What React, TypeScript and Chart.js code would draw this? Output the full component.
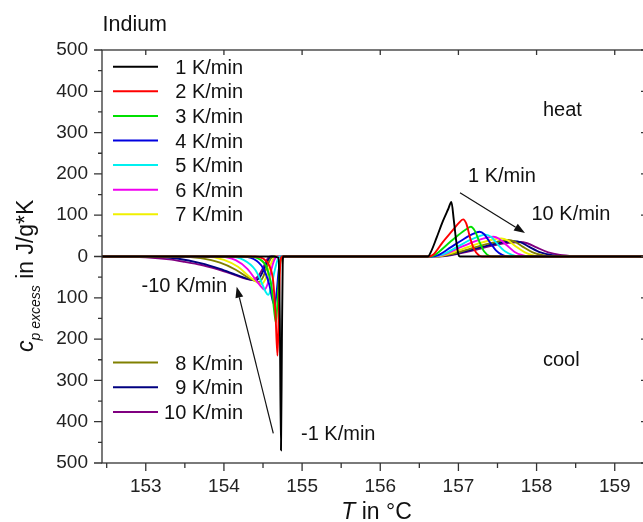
import React, { useEffect, useRef } from "react";
import { Chart, registerables } from "chart.js";
Chart.register(...registerables);

const FONT = "'Liberation Sans', Arial, Helvetica, sans-serif";

const X_MIN = 152.44;
const X_MAX = 159.4;
const Y_MIN = -500;
const Y_MAX = 500;
const X_TICKS = [153, 154, 155, 156, 157, 158, 159];
const X_MINOR = [152.5, 153.5, 154.5, 155.5, 156.5, 157.5, 158.5];
const Y_TICKS = [-500, -400, -300, -200, -100, 0, 100, 200, 300, 400, 500];
const Y_MINOR = [-450, -350, -250, -150, -50, 50, 150, 250, 350, 450];

const RATE_LABELS = ["1 K/min", "2 K/min", "3 K/min", "4 K/min", "5 K/min", "6 K/min", "7 K/min", "8 K/min", "9 K/min", "10 K/min"];
const RATE_COLORS = ["#000000", "#ff0000", "#00e000", "#0000e0", "#00f0f0", "#f000f0", "#f0f000", "#808000", "#000080", "#800080"];

// cooling runs: [T in °C, cp excess]
const cool1 = [[154.6, 0], [154.7, -3], [154.715, -150], [154.73, -469], [154.742, -200], [154.752, -20], [154.76, 0]];
const cool2 = [[154.4, 0], [154.5, -5], [154.58, -22], [154.63, -60], [154.66, -140], [154.685, -240], [154.7, -150], [154.715, -40], [154.73, -5], [154.75, 0]];
const cool3 = [[154.3, 0], [154.45, -6], [154.55, -28], [154.61, -75], [154.645, -135], [154.665, -160], [154.685, -110], [154.71, -35], [154.73, -5], [154.75, 0]];
const cool4 = [[154.2, 0], [154.38, -6], [154.5, -28], [154.58, -68], [154.625, -108], [154.65, -118], [154.675, -85], [154.7, -35], [154.725, -6], [154.745, 0]];
const cool5 = [[154.05, 0], [154.25, -8], [154.4, -32], [154.48, -62], [154.535, -86], [154.565, -93], [154.6, -78], [154.64, -42], [154.68, -12], [154.71, 0]];
const cool6 = [[153.95, 0], [154.15, -9], [154.3, -30], [154.42, -60], [154.49, -76], [154.52, -80], [154.56, -66], [154.6, -36], [154.645, -8], [154.68, 0]];
const cool7 = [[153.75, 0], [154.0, -8], [154.18, -25], [154.32, -48], [154.42, -62], [154.48, -67], [154.53, -55], [154.58, -28], [154.63, -6], [154.66, 0]];
const cool8 = [[153.45, 0], [153.7, -4], [153.95, -15], [154.15, -32], [154.3, -50], [154.4, -59], [154.45, -62], [154.5, -50], [154.55, -25], [154.6, -5], [154.63, 0]];
const cool9 = [[153.1, 0], [153.4, -5], [153.7, -16], [153.95, -30], [154.15, -44], [154.3, -54], [154.4, -58], [154.46, -50], [154.52, -28], [154.57, -7], [154.61, 0]];
const cool10 = [[152.7, 0], [153.0, -2], [153.3, -7], [153.5, -13], [153.7, -20], [153.9, -30], [154.1, -42], [154.25, -52], [154.36, -57], [154.44, -47], [154.5, -28], [154.55, -8], [154.59, 0]];

// heating runs: [T in °C, cp excess]
const heat1 = [[156.55, 0], [156.61, 0], [156.65, 12], [156.72, 45], [156.8, 85], [156.87, 115], [156.91, 132], [156.94, 90], [156.97, 40], [157.0, 5], [157.02, 0]];
const heat2 = [[156.62, 0], [156.68, 5], [156.8, 35], [156.92, 62], [157.0, 80], [157.06, 90], [157.1, 80], [157.15, 45], [157.2, 18], [157.26, 3], [157.3, 0]];
const heat3 = [[156.64, 0], [156.7, 4], [156.85, 28], [157.0, 52], [157.1, 66], [157.16, 72], [157.21, 62], [157.27, 35], [157.33, 12], [157.4, 1], [157.44, 0]];
const heat4 = [[156.66, 0], [156.75, 4], [156.9, 22], [157.05, 40], [157.18, 54], [157.27, 60], [157.33, 54], [157.4, 35], [157.48, 15], [157.56, 4], [157.64, 0]];
const heat5 = [[156.67, 0], [156.8, 5], [157.0, 25], [157.15, 40], [157.28, 50], [157.35, 53], [157.42, 47], [157.5, 30], [157.6, 12], [157.7, 3], [157.76, 0]];
const heat6 = [[156.68, 0], [156.8, 4], [157.0, 20], [157.2, 36], [157.35, 45], [157.45, 48], [157.52, 43], [157.62, 27], [157.72, 11], [157.82, 3], [157.9, 0]];
const heat7 = [[156.7, 0], [156.85, 5], [157.05, 18], [157.25, 31], [157.42, 40], [157.55, 44], [157.63, 39], [157.73, 25], [157.85, 10], [157.95, 3], [158.05, 0]];
const heat8 = [[156.7, 0], [156.9, 5], [157.1, 16], [157.3, 27], [157.5, 36], [157.64, 40], [157.72, 36], [157.82, 24], [157.95, 10], [158.08, 3], [158.2, 0]];
const heat9 = [[156.72, 0], [156.9, 4], [157.1, 13], [157.3, 23], [157.5, 32], [157.71, 37], [157.8, 34], [157.9, 24], [158.05, 10], [158.2, 3], [158.35, 0]];
const heat10 = [[156.72, 0], [156.9, 3], [157.1, 11], [157.3, 20], [157.5, 29], [157.65, 33], [157.78, 35], [157.88, 32], [158.0, 22], [158.15, 10], [158.3, 4], [158.5, 1], [158.7, 0]];

const COOL = [cool1, cool2, cool3, cool4, cool5, cool6, cool7, cool8, cool9, cool10];
const HEAT = [heat1, heat2, heat3, heat4, heat5, heat6, heat7, heat8, heat9, heat10];

function arrow(ctx: CanvasRenderingContext2D, x1: number, y1: number, x2: number, y2: number) {
  const ang = Math.atan2(y2 - y1, x2 - x1);
  const len = 11, w = 4;
  const bx = x2 - len * Math.cos(ang), by = y2 - len * Math.sin(ang);
  ctx.beginPath();
  ctx.moveTo(x1, y1);
  ctx.lineTo(bx, by);
  ctx.stroke();
  ctx.beginPath();
  ctx.moveTo(x2, y2);
  ctx.lineTo(bx + w * Math.sin(ang), by - w * Math.cos(ang));
  ctx.lineTo(bx - w * Math.sin(ang), by + w * Math.cos(ang));
  ctx.closePath();
  ctx.fill();
}

const decor = {
  id: "decor",
  afterDraw(chart: any) {
    const ctx: CanvasRenderingContext2D = chart.ctx;
    const { left, right, top, bottom } = chart.chartArea;
    const xs = chart.scales.x, ys = chart.scales.y;
    ctx.save();
    ctx.strokeStyle = "#333";
    ctx.lineWidth = 1.3;
    ctx.strokeRect(left, top, right - left, bottom - top);
    ctx.beginPath();
    X_TICKS.forEach((v) => { const p = xs.getPixelForValue(v); ctx.moveTo(p, bottom); ctx.lineTo(p, bottom + 8); ctx.moveTo(p, top); ctx.lineTo(p, top + 5); });
    X_MINOR.forEach((v) => { const p = xs.getPixelForValue(v); ctx.moveTo(p, bottom); ctx.lineTo(p, bottom + 5); });
    Y_TICKS.forEach((v) => { const p = ys.getPixelForValue(v); ctx.moveTo(left, p); ctx.lineTo(left - 8, p); ctx.moveTo(right, p); ctx.lineTo(right - 5, p); });
    Y_MINOR.forEach((v) => { const p = ys.getPixelForValue(v); ctx.moveTo(left, p); ctx.lineTo(left - 4, p); });
    ctx.stroke();

    // legends
    ctx.font = `20px ${FONT}`;
    ctx.textAlign = "right";
    ctx.textBaseline = "alphabetic";
    RATE_LABELS.forEach((lab, i) => {
      const cy = i < 7 ? 66.7 + 24.6 * i : 362.5 + 24.8 * (i - 7);
      ctx.strokeStyle = RATE_COLORS[i];
      ctx.lineWidth = 2;
      ctx.beginPath();
      ctx.moveTo(113, cy);
      ctx.lineTo(158, cy);
      ctx.stroke();
      ctx.fillStyle = "#111";
      ctx.fillText(lab, 243, cy + 7);
    });

    // annotations
    ctx.textAlign = "left";
    ctx.fillStyle = "#111";
    ctx.font = `20px ${FONT}`;
    ctx.fillText("heat", 543, 116);
    ctx.fillText("cool", 543, 366);
    ctx.fillText("1 K/min", 468, 181.5);
    ctx.fillText("10 K/min", 531.5, 220);
    ctx.fillText("-10 K/min", 141.5, 291.5);
    ctx.fillText("-1 K/min", 301, 440);
    ctx.strokeStyle = "#111";
    ctx.lineWidth = 1.2;
    arrow(ctx, 460, 192.7, 525, 233);
    arrow(ctx, 273.3, 433.3, 236.7, 286.7);

    // title
    ctx.font = `21.5px ${FONT}`;
    ctx.fillText("Indium", 102.5, 30.5);

    // x title
    ctx.font = `italic 23px ${FONT}`;
    const tW = ctx.measureText("T").width;
    ctx.font = `23px ${FONT}`;
    const rW = ctx.measureText(" in °C").width;
    const xc = 376.5;
    const sx = xc - (tW + rW) / 2;
    ctx.font = `italic 23px ${FONT}`;
    ctx.fillText("T", sx, 519);
    ctx.font = `23px ${FONT}`;
    ctx.fillText(" in °C", sx + tW, 519);

    // y title
    ctx.translate(33, 352);
    ctx.rotate(-Math.PI / 2);
    ctx.font = `italic 23px ${FONT}`;
    ctx.fillText("c", 0, 0);
    const cW = ctx.measureText("c").width;
    ctx.font = `italic 14px ${FONT}`;
    ctx.fillText("p excess", cW, 6.5);
    const sW = ctx.measureText("p excess").width;
    ctx.font = `23px ${FONT}`;
    ctx.fillText(" in J/g*K", cW + sW, 0);
    ctx.restore();
  },
};

export default function App() {
  const ref = useRef<HTMLCanvasElement>(null);
  useEffect(() => {
    const canvas = ref.current!;
    const datasets = RATE_LABELS.map((label, i) => ({
      label,
      data: [
        { x: X_MIN, y: 0 },
        ...COOL[i].map(([x, y]) => ({ x, y })),
        ...HEAT[i].map(([x, y]) => ({ x, y })),
        { x: X_MAX, y: 0 },
      ],
      borderColor: RATE_COLORS[i],
      backgroundColor: RATE_COLORS[i],
      borderWidth: 1.9,
      pointRadius: 0,
      fill: false,
      cubicInterpolationMode: "monotone" as const,
    }));
    const tickFont = { family: FONT, size: 19 };
    const chart = new Chart(canvas, {
      type: "line",
      data: { datasets },
      options: {
        animation: false,
        responsive: false,
        maintainAspectRatio: false,
        devicePixelRatio: 1,
        layout: { padding: { top: 50, left: 0, right: 4, bottom: 0 } },
        plugins: { legend: { display: false }, tooltip: { enabled: false } },
        scales: {
          x: {
            type: "linear",
            min: X_MIN,
            max: X_MAX,
            grid: { display: false, drawTicks: false },
            border: { display: false },
            afterBuildTicks: (s: any) => { s.ticks = X_TICKS.map((v) => ({ value: v })); },
            afterFit: (s: any) => { s.height = 59; },
            ticks: { font: tickFont, color: "#222", padding: 12, maxRotation: 0, autoSkip: false, callback: (v: any) => String(v) },
          },
          y: {
            type: "linear",
            min: Y_MIN,
            max: Y_MAX,
            grid: { display: false, drawTicks: false },
            border: { display: false },
            afterBuildTicks: (s: any) => { s.ticks = Y_TICKS.map((v) => ({ value: v })); },
            afterFit: (s: any) => { s.width = 102; },
            ticks: { font: tickFont, color: "#222", padding: 14, autoSkip: false, callback: (v: any) => String(Math.abs(Number(v))) },
          },
        },
      },
      plugins: [decor],
    });
    return () => chart.destroy();
  }, []);
  return (
    <div style={{ position: "absolute", left: 0, top: 0, width: 643, height: 522, overflow: "hidden", background: "#fff" }}>
      <canvas ref={ref} width={650} height={522} style={{ width: 650, height: 522, display: "block" }} />
    </div>
  );
}
